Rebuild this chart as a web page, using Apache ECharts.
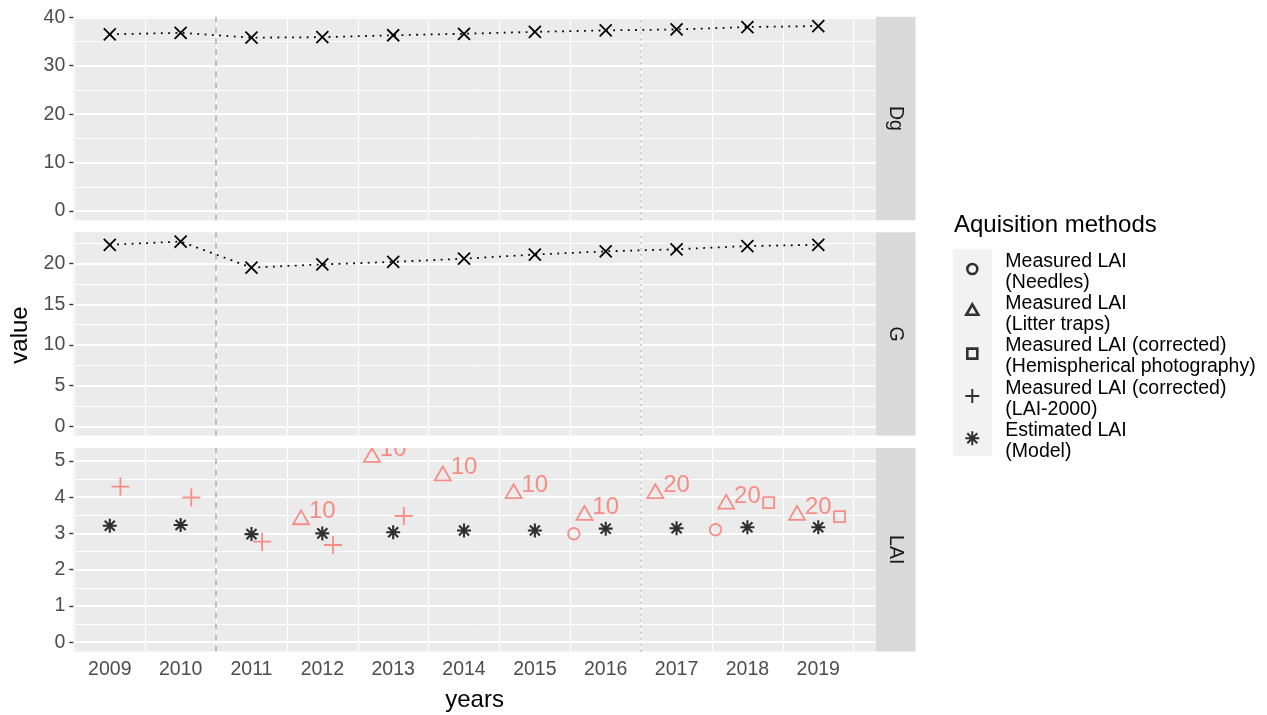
<!DOCTYPE html>
<html>
<head>
<meta charset="utf-8">
<title>LAI</title>
<script src="https://cdn.jsdelivr.net/npm/echarts@6/dist/echarts.min.js"></script>
<style>
html, body { margin: 0; padding: 0; background: #fff; }
#chart { width: 1267px; height: 715px; }
</style>
</head>
<body>
<div id="chart"></div>
<script>
// data
var years = [2009, 2010, 2011, 2012, 2013, 2014, 2015, 2016, 2017, 2018, 2019];
var dg = [36.5, 36.8, 35.8, 35.9, 36.3, 36.6, 37.0, 37.3, 37.5, 38.0, 38.2];
var g = [22.3, 22.7, 19.5, 19.9, 20.2, 20.6, 21.1, 21.5, 21.75, 22.15, 22.3];
var laiModel = [3.21, 3.23, 2.98, 3.0, 3.03, 3.08, 3.08, 3.13, 3.14, 3.17, 3.17];
var needleYears = [2016, 2018];
var needleLai = [2.99, 3.10];
var litterYears = [2012, 2013, 2014, 2015, 2016, 2017, 2018, 2019];
var litterLai = [3.38, 5.1, 4.59, 4.1, 3.5, 4.1, 3.81, 3.5];
var litterN = ['10', '10', '10', '10', '10', '20', '20', '20'];
var hemiYears = [2018, 2019];
var hemiLai = [3.85, 3.46];
var licorYears = [2009, 2010, 2011, 2012, 2013];
var licorLai = [4.29, 3.99, 2.77, 2.68, 3.48];
var breaks = [2010.5, 2016.5];
var dgTicks = [0, 10, 20, 30, 40];
var gTicks = [0, 5, 10, 15, 20];
var laiTicks = [0, 1, 2, 3, 4, 5];
var methods = [
    'Measured LAI\n(Needles)',
    'Measured LAI\n(Litter traps)',
    'Measured LAI (corrected)\n(Hemispherical photography)',
    'Measured LAI (corrected)\n(LAI-2000)',
    'Estimated LAI\n(Model)'
];

// horizontal shift of each method inside its year
var dodge = { needles: -0.45, litter: -0.3, licor: 0.15, hemi: 0.3 };

var RED = '#F8766D';
var FONT = '"Liberation Sans", Arial, Helvetica, sans-serif';

var CROSS = 'path://M-1,-1L1,1M1,-1L-1,1';
var PLUS = 'path://M-1,0L1,0M0,-1L0,1';
var ASTER = 'path://M-1,0L1,0M0,-1L0,1M-0.72,-0.72L0.72,0.72M0.72,-0.72L-0.72,0.72';
var TRI = 'path://M0,1M0,-1L0.866,0.5L-0.866,0.5Z';

// legend keys: extra room below so the glyph sits a little above the item centre
var L_BOX = 'M-7,-7M7,13';
var L_CIRCLE = 'path://' + L_BOX + 'M0,-5A5,5,0,1,1,0,5A5,5,0,1,1,0,-5Z';
var L_TRI = 'path://' + L_BOX + 'M0,-6.9L6,3.45L-6,3.45Z';
var L_SQ = 'path://' + L_BOX + 'M-5,-5L5,-5L5,5L-5,5Z';
var L_PLUS = 'path://' + L_BOX + 'M-7,0L7,0M0,-7L0,7';
var L_AST = 'path://' + L_BOX + 'M-7,0L7,0M0,-7L0,7M-5,-5L5,5M5,-5L-5,5';

function pairs(xs, ys, shift) {
    return xs.map(function (x, i) { return [x + (shift || 0), ys[i]]; });
}

// ggplot-like 5% expansion, with 0 kept in range
function expand(vals) {
    var hi = Math.max.apply(null, vals);
    var pad = hi * 0.05;
    return [-pad, hi + pad];
}

var dgRange = expand(dg);
var gRange = expand(g);
var laiRange = expand([].concat(laiModel, needleLai, litterLai, hemiLai, licorLai));

var xMin = 2008.485, xMax = 2019.815;
var panelTop = [16.8, 232.3, 448];
var panelH = 203.4;
var panelLeft = 73.3, panelW = 802.7;

function makeX(i, bottom) {
    return {
        gridIndex: i, type: 'value', min: xMin, max: xMax, splitNumber: 11,
        axisLine: { show: false },
        axisTick: { show: false },
        axisLabel: {
            show: bottom, customValues: years, color: '#4d4d4d',
            fontSize: 19.5, fontFamily: FONT, margin: 8,
            formatter: function (v) { return String(v); }
        },
        splitLine: { show: false },
        minorTick: { show: false, splitNumber: 2 },
        minorSplitLine: { show: true, lineStyle: { color: '#ffffff', width: 1.1 } }
    };
}

function makeY(i, range, ticks) {
    return {
        gridIndex: i, type: 'value', min: range[0], max: range[1], splitNumber: 5,
        axisLine: { show: false },
        axisTick: { show: true, length: 4, customValues: ticks, lineStyle: { color: '#333333', width: 1.4 } },
        axisLabel: { customValues: ticks, color: '#4d4d4d', fontSize: 19.5, fontFamily: FONT, margin: 8 },
        splitLine: { show: true, lineStyle: { color: '#ffffff', width: 2 } },
        minorTick: { show: false, splitNumber: 2 },
        minorSplitLine: { show: true, lineStyle: { color: '#ffffff', width: 1 } }
    };
}

var vlines = {
    silent: true,
    symbol: ['none', 'none'],
    label: { show: false },
    data: [
        { xAxis: breaks[0], lineStyle: { color: '#bebebe', width: 2, type: [6, 5] } },
        { xAxis: breaks[1], lineStyle: { color: '#bebebe', width: 1.6, type: [1.6, 4.4] } }
    ]
};

function hollow(c, w) {
    return { color: 'transparent', borderColor: c, borderWidth: w };
}

var strips = ['Dg', 'G', 'LAI'];
var graphics = [];
panelTop.forEach(function (t, i) {
    graphics.push({
        type: 'rect', shape: { x: 876, y: t, width: 39.5, height: panelH },
        style: { fill: '#d9d9d9' }, silent: true
    });
    graphics.push({
        type: 'text', x: 895.8, y: t + panelH / 2, rotation: -Math.PI / 2,
        style: {
            text: strips[i], fill: '#1a1a1a', font: '19.5px ' + FONT,
            textAlign: 'center', textVerticalAlign: 'middle', align: 'center', verticalAlign: 'middle'
        }, silent: true
    });
});
// white gap between panels 2 and 3 (clips the label poking out of the top)
graphics.push({
    type: 'rect', z: 100, shape: { x: 60, y: panelTop[1] + panelH, width: 860, height: panelTop[2] - panelTop[1] - panelH },
    style: { fill: '#ffffff' }, silent: true
});
graphics.push({
    type: 'text', x: 474.6, y: 700,
    style: { text: 'years', fill: '#000', font: '24px ' + FONT, textAlign: 'center', textVerticalAlign: 'middle', align: 'center', verticalAlign: 'middle' },
    silent: true
});
graphics.push({
    type: 'text', x: 20, y: 335, rotation: Math.PI / 2,
    style: { text: 'value', fill: '#000', font: '24px ' + FONT, textAlign: 'center', textVerticalAlign: 'middle', align: 'center', verticalAlign: 'middle' },
    silent: true
});
graphics.push({
    type: 'text', x: 954, y: 225,
    style: { text: 'Aquisition methods', fill: '#000', font: '24px ' + FONT, textAlign: 'left', textVerticalAlign: 'middle', align: 'left', verticalAlign: 'middle' },
    silent: true
});
graphics.push({
    type: 'rect', z: 0, shape: { x: 952.7, y: 249.3, width: 39.6, height: 206.7 },
    style: { fill: '#f2f2f2' }, silent: true
});

var chart = echarts.init(document.getElementById('chart'));
var option = {
    animation: false,
    backgroundColor: '#ffffff',
    textStyle: { fontFamily: FONT },
    grid: panelTop.map(function (t) {
        return {
            left: panelLeft, top: t, width: panelW, height: panelH,
            show: true, backgroundColor: '#ebebeb', borderWidth: 0,
            containLabel: false, outerBoundsMode: 'none'
        };
    }),
    xAxis: [makeX(0, false), makeX(1, false), makeX(2, true)],
    yAxis: [makeY(0, dgRange, dgTicks), makeY(1, gRange, gTicks), makeY(2, laiRange, laiTicks)],
    legend: {
        orient: 'vertical', left: 959, top: 246,
        itemWidth: 56, itemHeight: 20, itemGap: 0.3,
        selectedMode: false,
        textStyle: { fontSize: 19.5, lineHeight: 21, color: '#000', fontFamily: FONT },
        data: [
            { name: methods[0], icon: L_CIRCLE, itemStyle: hollow('#000', 2.6) },
            { name: methods[1], icon: L_TRI, itemStyle: hollow('#000', 2.6) },
            { name: methods[2], icon: L_SQ, itemStyle: hollow('#000', 2.6) },
            { name: methods[3], icon: L_PLUS, itemStyle: hollow('#000', 2) },
            { name: methods[4], icon: L_AST, itemStyle: hollow('#000', 2) }
        ]
    },
    graphic: graphics,
    series: [
        {
            name: 'Dg', type: 'line', xAxisIndex: 0, yAxisIndex: 0,
            data: pairs(years, dg), symbol: CROSS, symbolSize: 12, showAllSymbol: true,
            itemStyle: { color: '#000', borderColor: '#000', borderWidth: 1.8 },
            lineStyle: { color: '#000', width: 1.8, type: [1.8, 5.5], cap: 'butt' },
            markLine: vlines
        },
        {
            name: 'G', type: 'line', xAxisIndex: 1, yAxisIndex: 1,
            data: pairs(years, g), symbol: CROSS, symbolSize: 12, showAllSymbol: true,
            itemStyle: { color: '#000', borderColor: '#000', borderWidth: 1.8 },
            lineStyle: { color: '#000', width: 1.8, type: [1.8, 5.5], cap: 'butt' },
            markLine: vlines
        },
        {
            name: methods[0], type: 'scatter', xAxisIndex: 2, yAxisIndex: 2,
            data: pairs(needleYears, needleLai, dodge.needles),
            symbol: 'circle', symbolSize: 11.5, itemStyle: hollow(RED, 1.8)
        },
        {
            name: methods[1], type: 'scatter', xAxisIndex: 2, yAxisIndex: 2,
            data: pairs(litterYears, litterLai, dodge.litter),
            symbol: TRI, symbolSize: 18.5, symbolKeepAspect: true, itemStyle: hollow(RED, 1.8),
            label: {
                show: true, position: 'right', distance: -1, offset: [0, -8],
                formatter: function (p) { return litterN[p.dataIndex]; },
                color: RED, fontSize: 24, fontFamily: FONT
            }
        },
        {
            name: methods[2], type: 'scatter', xAxisIndex: 2, yAxisIndex: 2,
            data: pairs(hemiYears, hemiLai, dodge.hemi),
            symbol: 'rect', symbolSize: 11, itemStyle: hollow(RED, 1.8)
        },
        {
            name: methods[3], type: 'scatter', xAxisIndex: 2, yAxisIndex: 2,
            data: pairs(licorYears, licorLai, dodge.licor),
            symbol: PLUS, symbolSize: 18, itemStyle: hollow(RED, 1.8)
        },
        {
            name: methods[4], type: 'scatter', xAxisIndex: 2, yAxisIndex: 2,
            data: pairs(years, laiModel),
            symbol: ASTER, symbolSize: 14, itemStyle: hollow('#000', 2.1),
            markLine: vlines
        }
    ]
};
chart.setOption(option);
</script>
</body>
</html>
